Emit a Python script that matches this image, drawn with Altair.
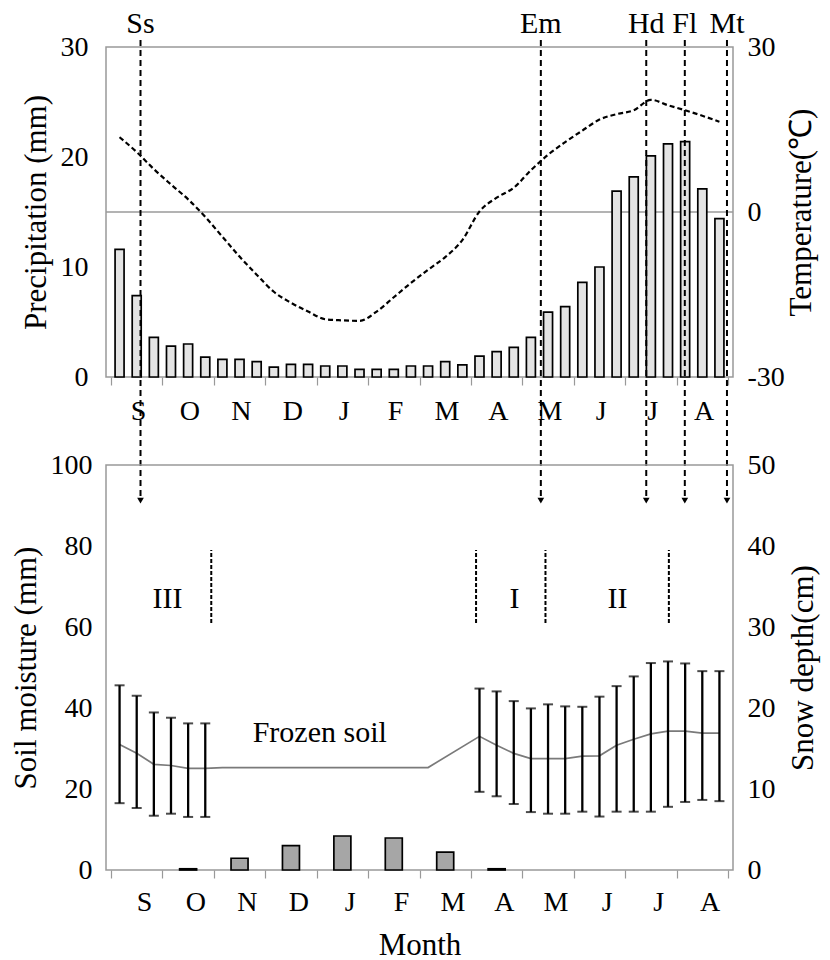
import altair as alt
import pandas as pd

FONT = "Liberation Serif"

MONTHS = ["S", "O", "N", "D", "J", "F", "M", "A", "M", "J", "J", "A"]

# Ten-day (dekad) series, 1st dekad of September .. 3rd dekad of August
PRECIP = [11.6, 7.4, 3.6, 2.8, 3.0, 1.8, 1.6, 1.6, 1.4, 0.9, 1.15, 1.15,
          1.0, 1.0, 0.7, 0.7, 0.7, 1.0, 1.0, 1.4, 1.1, 1.9, 2.3, 2.7,
          3.6, 5.9, 6.4, 8.6, 10.0, 16.9, 18.2, 20.1, 21.2, 21.4, 17.1, 14.4]

TEMP = [13.6, 10.9, 7.8, 5.0, 2.3, -0.9, -4.5, -8.1, -11.4, -14.5, -16.5, -18.1,
        -19.5, -19.7, -19.8, -18.1, -15.5, -12.9, -10.5, -8.2, -5.1, 0.1, 2.6, 4.4,
        7.6, 10.4, 12.7, 14.8, 16.8, 17.8, 18.5, 20.4, 19.4, 18.5, 17.5, 16.4]

SOIL_MEAN = [31.0, 28.8, 26.1, 25.8, 25.1, 25.1,
             25.3, 25.3, 25.3, 25.3, 25.3, 25.3, 25.3, 25.3, 25.3, 25.3, 25.3, 25.3, 25.3,
             None, None,
             33.0, 30.8, 28.8, 27.5, 27.5, 27.5, 28.1, 28.2, 30.8, 32.3, 33.6, 34.3,
             34.3, 33.8, 33.8]
SOIL_LOW = [16.5, 15.3, 13.4, 13.9, 13.1, 13.1,
            None, None, None, None, None, None, None, None, None, None, None, None, None,
            None, None,
            19.3, 18.2, 16.3, 14.3, 13.9, 13.9, 14.4, 13.2, 14.4, 14.4, 14.4, 15.6,
            16.8, 17.3, 17.0]
SOIL_HIGH = [45.6, 43.0, 38.9, 37.6, 36.2, 36.2,
             None, None, None, None, None, None, None, None, None, None, None, None, None,
             None, None,
             44.8, 44.1, 41.7, 39.9, 40.9, 40.4, 40.3, 42.8, 45.4, 47.8, 51.1, 51.5,
             51.0, 49.1, 49.1]

# Monthly mean snow depth (cm)
SNOW = [0, 0.15, 1.45, 3.0, 4.2, 3.95, 2.2, 0.15, 0, 0, 0, 0]

# Phenological events, position in months after 1 September
EVENTS = ["Ss", "Em", "Hd", "Fl", "Mt"]
EVENT_AT = [0.574, 8.36, 10.41, 11.16, 11.98]

# Soil-moisture stages
STAGE_BOUNDS = [1.95, 7.1, 8.45, 10.85]
STAGE_NAMES = ["III", "I", "II"]
STAGE_AT = [1.1, 7.85, 9.85]
STAGE_Y = 66.9
SEP_LOW, SEP_HIGH = 61, 79
FROZEN_AT, FROZEN_Y = 4.06, 33.9
ARROW_Y = 91.2

W, TOP_H, BOT_H, GAP = 627, 330, 405, 88
TICK_FS, TITLE_FS, TEXT_FS = 28, 31, 30

dek = pd.DataFrame({
    "t": [(i + 0.5) / 3 for i in range(36)],
    "precip": PRECIP, "temp": TEMP,
    "soil": SOIL_MEAN, "lo": SOIL_LOW, "hi": SOIL_HIGH,
})
soil_df = dek.dropna(subset=["soil"])
err_df = dek.dropna(subset=["lo"])
snow_df = pd.DataFrame({"t": [k + 0.5 for k in range(12)], "snow": SNOW})
snow_df = snow_df[snow_df["snow"] > 0]
ev_df = pd.DataFrame({"name": EVENTS, "x": EVENT_AT, "a": [ARROW_Y] * len(EVENTS)})
sep_df = pd.DataFrame({"x": STAGE_BOUNDS, "lo": [SEP_LOW] * 4, "hi": [SEP_HIGH] * 4})
stage_df = pd.DataFrame({"x": STAGE_AT, "y": [STAGE_Y] * 3, "name": STAGE_NAMES})
frozen_df = pd.DataFrame({"x": [FROZEN_AT], "y": [FROZEN_Y], "name": ["Frozen soil"]})

month_expr = "[" + ",".join("'%s'" % m for m in MONTHS) + "][datum.value] || ''"
plain_minus = "datum.value < 0 ? '-' + abs(datum.value) : '' + datum.value"
xscale = alt.Scale(domain=[0, 12], nice=False, zero=False)


def month_axis(offset, pad, title=None):
    return alt.Axis(values=list(range(13)), labelExpr=month_expr, labelOffset=offset,
                    labelPadding=pad, labelFlush=False, labelOverlap=False,
                    tickSize=8, tickColor="#999", tickWidth=1.2, domain=False,
                    grid=False, title=title, titlePadding=14)


def side_axis(orient, values, title, lpad, tpad):
    return alt.Axis(orient=orient, values=values, title=title, ticks=False,
                    labelPadding=lpad, titlePadding=tpad, titleAngle=270,
                    labelExpr=plain_minus, grid=False, domain=False)


# ---------------- upper panel: precipitation and air temperature
x_top = alt.X("t:Q", scale=xscale, axis=month_axis(27, 12))
t_scale = alt.Scale(domain=[-30, 30], nice=False)

zero_line = alt.Chart(pd.DataFrame({"temp": [0]})).mark_rule(
    color="#9a9a9a", strokeWidth=1.5).encode(
    y=alt.Y("temp:Q", scale=t_scale, axis=None))

bars = alt.Chart(dek).mark_bar(size=9, fill="#e4e4e4", stroke="black", strokeWidth=1.7).encode(
    x=x_top,
    y=alt.Y("precip:Q", scale=alt.Scale(domain=[0, 30], nice=False),
            axis=side_axis("left", [0, 10, 20, 30], "Precipitation (mm)", 18, 8)))

temp_line = alt.Chart(dek).mark_line(color="black", strokeWidth=2.2, strokeDash=[5, 3],
                                     interpolate="monotone").encode(
    x="t:Q",
    y=alt.Y("temp:Q", scale=t_scale,
            axis=side_axis("right", [-30, 0, 30], "Temperature(℃)", 14, 33)))

ev_rules = alt.Chart(ev_df).mark_rule(color="black", strokeWidth=2, strokeDash=[6, 4]).encode(
    x="x:Q", y=alt.value(-7),
    y2=alt.value(TOP_H + GAP + (100 - ARROW_Y) / 100 * BOT_H))

ev_text = alt.Chart(ev_df).mark_text(font=FONT, fontSize=TEXT_FS, baseline="alphabetic",
                                     color="black").encode(
    x="x:Q", y=alt.value(-14), text="name:N")

top = alt.layer(zero_line, bars, temp_line, ev_rules, ev_text).resolve_scale(
    y="independent").properties(width=W, height=TOP_H)

# ---------------- lower panel: soil moisture and snow depth
x_bot = alt.X("t:Q", scale=xscale, axis=month_axis(33, 10, "Month"))
s_scale = alt.Scale(domain=[0, 100], nice=False)

snow_bars = alt.Chart(snow_df).mark_bar(size=17, fill="#a6a6a6", stroke="black",
                                        strokeWidth=1.7).encode(
    x=x_bot,
    y=alt.Y("snow:Q", scale=alt.Scale(domain=[0, 50], nice=False),
            axis=side_axis("right", [0, 10, 20, 30, 40, 50], "Snow depth(cm)", 14, 44)))

soil_line = alt.Chart(soil_df).mark_line(color="#7a7a7a", strokeWidth=1.7).encode(
    x="t:Q",
    y=alt.Y("soil:Q", scale=s_scale,
            axis=side_axis("left", [0, 20, 40, 60, 80, 100], "Soil moisture (mm)", 14, 8)))

err_rule = alt.Chart(err_df).mark_rule(color="black", strokeWidth=2.3).encode(
    x="t:Q", y=alt.Y("lo:Q", scale=s_scale, axis=None), y2="hi:Q")
err_lo = alt.Chart(err_df).mark_tick(color="black", thickness=2, size=10,
                                     orient="horizontal").encode(
    x="t:Q", y=alt.Y("lo:Q", scale=s_scale, axis=None))
err_hi = alt.Chart(err_df).mark_tick(color="black", thickness=2, size=10,
                                     orient="horizontal").encode(
    x="t:Q", y=alt.Y("hi:Q", scale=s_scale, axis=None))

seps = alt.Chart(sep_df).mark_rule(color="black", strokeWidth=2, strokeDash=[4, 2]).encode(
    x="x:Q", y=alt.Y("lo:Q", scale=s_scale, axis=None), y2="hi:Q")

stage_text = alt.Chart(stage_df).mark_text(font=FONT, fontSize=TEXT_FS, color="black").encode(
    x="x:Q", y=alt.Y("y:Q", scale=s_scale, axis=None), text="name:N")

frozen_text = alt.Chart(frozen_df).mark_text(font=FONT, fontSize=TEXT_FS, color="black").encode(
    x="x:Q", y=alt.Y("y:Q", scale=s_scale, axis=None), text="name:N")

arrows = alt.Chart(ev_df).mark_point(shape="triangle-down", filled=True, size=45,
                                     color="black", opacity=1).encode(
    x="x:Q", y=alt.Y("a:Q", scale=s_scale, axis=None))

bottom = alt.layer(snow_bars, soil_line, err_rule, err_lo, err_hi, seps,
                   stage_text, frozen_text, arrows).resolve_scale(
    y="independent").properties(width=W, height=BOT_H)

chart = alt.vconcat(top, bottom, spacing=GAP, bounds="flush").configure_view(
    stroke="#999", strokeWidth=1.5
).configure_axis(
    labelFont=FONT, titleFont=FONT, labelFontSize=TICK_FS, titleFontSize=TITLE_FS,
    titleFontWeight="normal", labelColor="black", titleColor="black"
).properties(
    padding={"left": 9, "top": 8, "right": 2, "bottom": 4},
    background="white"
)

chart.save("out.html", embed_options={"renderer": "svg", "actions": False})
